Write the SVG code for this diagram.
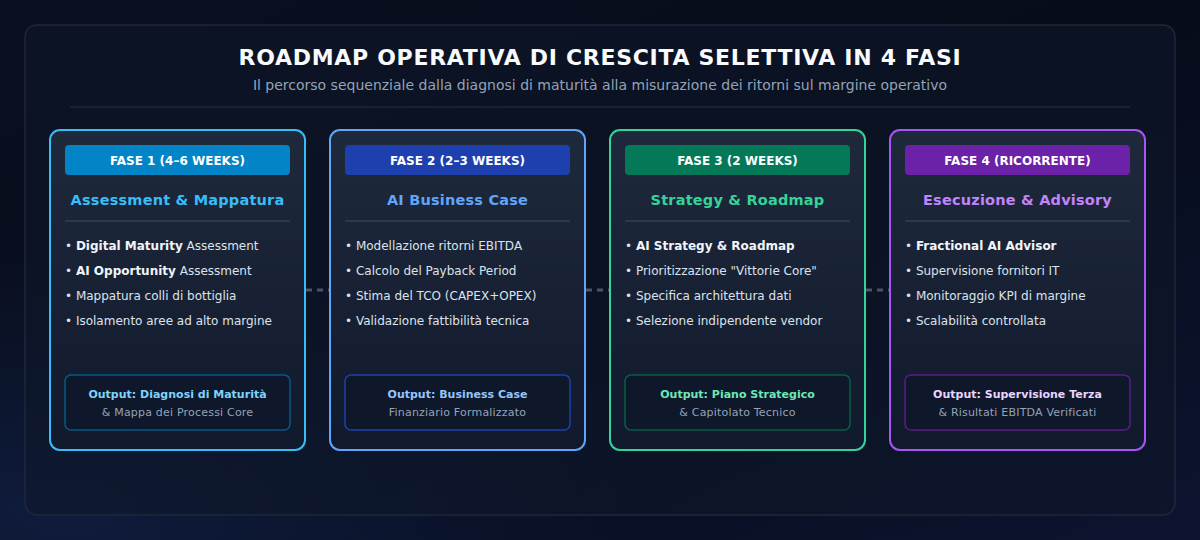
<svg xmlns="http://www.w3.org/2000/svg" width="1200" height="540" viewBox="0 0 1200 540">
  <defs>
    <linearGradient id="bg" x1="0" y1="0" x2="1" y2="1">
      <stop offset="0" stop-color="#0a1020"/>
      <stop offset="0.5" stop-color="#070c1a"/>
      <stop offset="1" stop-color="#0c1430"/>
    </linearGradient>
    <radialGradient id="glowBL" cx="0.05" cy="0.95" r="0.5">
      <stop offset="0" stop-color="#12224a" stop-opacity="0.7"/>
      <stop offset="1" stop-color="#12224a" stop-opacity="0"/>
    </radialGradient>
    <linearGradient id="cardFill" x1="0" y1="0" x2="0" y2="1">
      <stop offset="0" stop-color="#1e293b"/>
      <stop offset="1" stop-color="#111a2c"/>
    </linearGradient>
    <style>
      .title { font-family: "DejaVu Sans", sans-serif; font-weight: bold; font-size: 22px; fill: #f8fafc; letter-spacing: 0.7px; text-anchor: middle; }
      .subtitle { font-family: "DejaVu Sans", sans-serif; font-size: 14px; fill: #94a3b8; text-anchor: middle; }
      .card { fill: url(#cardFill); stroke-width: 2; }
      .badge-text { font-family: "DejaVu Sans", sans-serif; font-weight: bold; font-size: 12px; fill: #ffffff; text-anchor: middle; }
      .phase-title { font-family: "DejaVu Sans", sans-serif; font-weight: bold; font-size: 14.5px; text-anchor: middle; letter-spacing: 0.2px; }
      .sep { stroke: #334155; stroke-width: 1.5; }
      .bullet { font-family: "DejaVu Sans", sans-serif; font-size: 12px; fill: #dbe3ee; }
      .bullet tspan.b { font-weight: bold; fill: #f1f5f9; }
      .outbox { fill: #0f172a; stroke-width: 1.5; }
      .out1 { font-family: "DejaVu Sans", sans-serif; font-weight: bold; font-size: 11px; text-anchor: middle; }
      .out2 { font-family: "DejaVu Sans", sans-serif; font-size: 11px; fill: #94a3b8; text-anchor: middle; letter-spacing: 0.2px; }
      .conn { stroke: #475569; stroke-width: 3; stroke-dasharray: 6 5; fill: none; }
    </style>
  </defs>

  <rect x="0" y="0" width="1200" height="540" fill="url(#bg)"/>
  <rect x="0" y="0" width="1200" height="540" fill="url(#glowBL)"/>
  <rect x="25" y="25" width="1150" height="490" rx="12" fill="#0f172a" fill-opacity="0.55" stroke="#1e293b" stroke-width="1.5"/>

  <text class="title" x="600" y="65">ROADMAP OPERATIVA DI CRESCITA SELETTIVA IN 4 FASI</text>
  <text class="subtitle" x="600" y="90">Il percorso sequenziale dalla diagnosi di maturità alla misurazione dei ritorni sul margine operativo</text>
  <line x1="70" y1="107" x2="1130" y2="107" stroke="#1e293b" stroke-width="1.5"/>

  <g id="connectors">
    <line class="conn" x1="306" y1="290" x2="330" y2="290"/>
    <line class="conn" x1="586" y1="290" x2="610" y2="290"/>
    <line class="conn" x1="866" y1="290" x2="890" y2="290"/>
  </g>

  <g id="fase1">
    <rect class="card" x="50" y="130" width="255" height="320" rx="10" stroke="#38bdf8"/>
    <rect x="65" y="145" width="225" height="30" rx="4" fill="#0284c7"/>
    <text class="badge-text" x="177.5" y="165">FASE 1 (4–6 WEEKS)</text>
    <text class="phase-title" x="177.5" y="205" fill="#38bdf8">Assessment &amp; Mappatura</text>
    <line class="sep" x1="65" y1="221" x2="290" y2="221"/>
    <text class="bullet" x="65" y="250">• <tspan class="b">Digital Maturity</tspan> Assessment</text>
    <text class="bullet" x="65" y="275">• <tspan class="b">AI Opportunity</tspan> Assessment</text>
    <text class="bullet" x="65" y="300">• Mappatura colli di bottiglia</text>
    <text class="bullet" x="65" y="325">• Isolamento aree ad alto margine</text>
    <rect class="outbox" x="65" y="375" width="225" height="55" rx="6" stroke="#075985"/>
    <text class="out1" x="177.5" y="398" fill="#7dd3fc">Output: Diagnosi di Maturità</text>
    <text class="out2" x="177.5" y="416">&amp; Mappa dei Processi Core</text>
  </g>

  <g id="fase2">
    <rect class="card" x="330" y="130" width="255" height="320" rx="10" stroke="#60a5fa"/>
    <rect x="345" y="145" width="225" height="30" rx="4" fill="#1e40af"/>
    <text class="badge-text" x="457.5" y="165">FASE 2 (2–3 WEEKS)</text>
    <text class="phase-title" x="457.5" y="205" fill="#60a5fa">AI Business Case</text>
    <line class="sep" x1="345" y1="221" x2="570" y2="221"/>
    <text class="bullet" x="345" y="250">• Modellazione ritorni EBITDA</text>
    <text class="bullet" x="345" y="275">• Calcolo del Payback Period</text>
    <text class="bullet" x="345" y="300">• Stima del TCO (CAPEX+OPEX)</text>
    <text class="bullet" x="345" y="325">• Validazione fattibilità tecnica</text>
    <rect class="outbox" x="345" y="375" width="225" height="55" rx="6" stroke="#1e40af"/>
    <text class="out1" x="457.5" y="398" fill="#93c5fd">Output: Business Case</text>
    <text class="out2" x="457.5" y="416">Finanziario Formalizzato</text>
  </g>

  <g id="fase3">
    <rect class="card" x="610" y="130" width="255" height="320" rx="10" stroke="#34d399"/>
    <rect x="625" y="145" width="225" height="30" rx="4" fill="#047857"/>
    <text class="badge-text" x="737.5" y="165">FASE 3 (2 WEEKS)</text>
    <text class="phase-title" x="737.5" y="205" fill="#34d399">Strategy &amp; Roadmap</text>
    <line class="sep" x1="625" y1="221" x2="850" y2="221"/>
    <text class="bullet" x="625" y="250">• <tspan class="b">AI Strategy &amp; Roadmap</tspan></text>
    <text class="bullet" x="625" y="275">• Prioritizzazione "Vittorie Core"</text>
    <text class="bullet" x="625" y="300">• Specifica architettura dati</text>
    <text class="bullet" x="625" y="325">• Selezione indipendente vendor</text>
    <rect class="outbox" x="625" y="375" width="225" height="55" rx="6" stroke="#065f46"/>
    <text class="out1" x="737.5" y="398" fill="#6ee7b7">Output: Piano Strategico</text>
    <text class="out2" x="737.5" y="416">&amp; Capitolato Tecnico</text>
  </g>

  <g id="fase4">
    <rect class="card" x="890" y="130" width="255" height="320" rx="10" stroke="#a855f7"/>
    <rect x="905" y="145" width="225" height="30" rx="4" fill="#6b21a8"/>
    <text class="badge-text" x="1017.5" y="165">FASE 4 (RICORRENTE)</text>
    <text class="phase-title" x="1017.5" y="205" fill="#c084fc">Esecuzione &amp; Advisory</text>
    <line class="sep" x1="905" y1="221" x2="1130" y2="221"/>
    <text class="bullet" x="905" y="250">• <tspan class="b">Fractional AI Advisor</tspan></text>
    <text class="bullet" x="905" y="275">• Supervisione fornitori IT</text>
    <text class="bullet" x="905" y="300">• Monitoraggio KPI di margine</text>
    <text class="bullet" x="905" y="325">• Scalabilità controllata</text>
    <rect class="outbox" x="905" y="375" width="225" height="55" rx="6" stroke="#581c87"/>
    <text class="out1" x="1017.5" y="398" fill="#e9d5ff">Output: Supervisione Terza</text>
    <text class="out2" x="1017.5" y="416">&amp; Risultati EBITDA Verificati</text>
  </g>
</svg>
